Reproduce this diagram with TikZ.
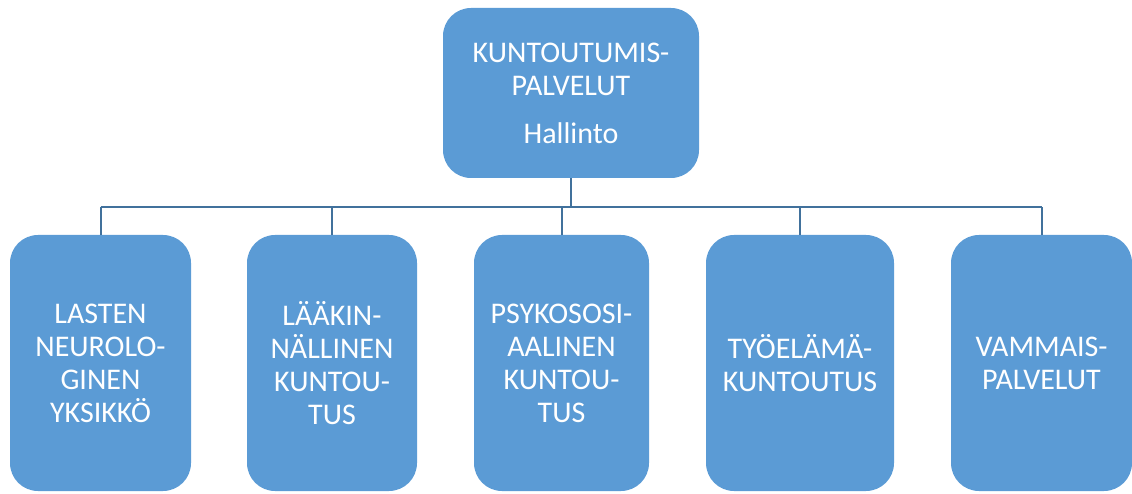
\documentclass[tikz,border=0pt]{standalone}
\usepackage{fontspec}
\setmainfont{Carlito}
\definecolor{boxblue}{HTML}{5B9BD5}
\definecolor{lineblue}{HTML}{41719C}
\begin{document}
\begin{tikzpicture}[x=1pt,y=-1pt,
  unit/.style={rectangle, rounded corners=28pt, fill=boxblue, draw=none,
    text=white, align=center, inner sep=0pt,
    font=\fontsize{30}{33}\selectfont},
  conn/.style={draw=lineblue, line width=2pt}]
\useasboundingbox (0,0) rectangle (1132,494);
\node[unit, minimum width=256pt, minimum height=170pt] (top) at (571,93)
  {KUNTOUTUMIS-\\PALVELUT\\[15pt]Hallinto};
\node[unit, minimum width=181pt, minimum height=256pt] (b1) at (100.5,363)
  {LASTEN\\NEUROLO-\\GINEN\\YKSIKKÖ};
\node[unit, minimum width=170pt, minimum height=256pt] (b2) at (332,363)
  {LÄÄKIN-\\NÄLLINEN\\KUNTOU-\\TUS};
\node[unit, minimum width=175pt, minimum height=256pt] (b3) at (561.5,363)
  {PSYKOSOSI-\\AALINEN\\KUNTOU-\\TUS};
\node[unit, minimum width=188pt, minimum height=256pt] (b4) at (800,363)
  {TYÖELÄMÄ-\\KUNTOUTUS};
\node[unit, minimum width=181pt, minimum height=256pt] (b5) at (1041.5,363)
  {VAMMAIS-\\PALVELUT};
\coordinate (bus) at (0,207);
\draw[conn] (top.south) -- (top.south |- bus);
\draw[conn] (b1.north |- bus) -- (b5.north |- bus);
\foreach \i in {1,...,5}{
  \draw[conn] (b\i.north) -- (b\i.north |- bus);
}
\end{tikzpicture}
\end{document}
